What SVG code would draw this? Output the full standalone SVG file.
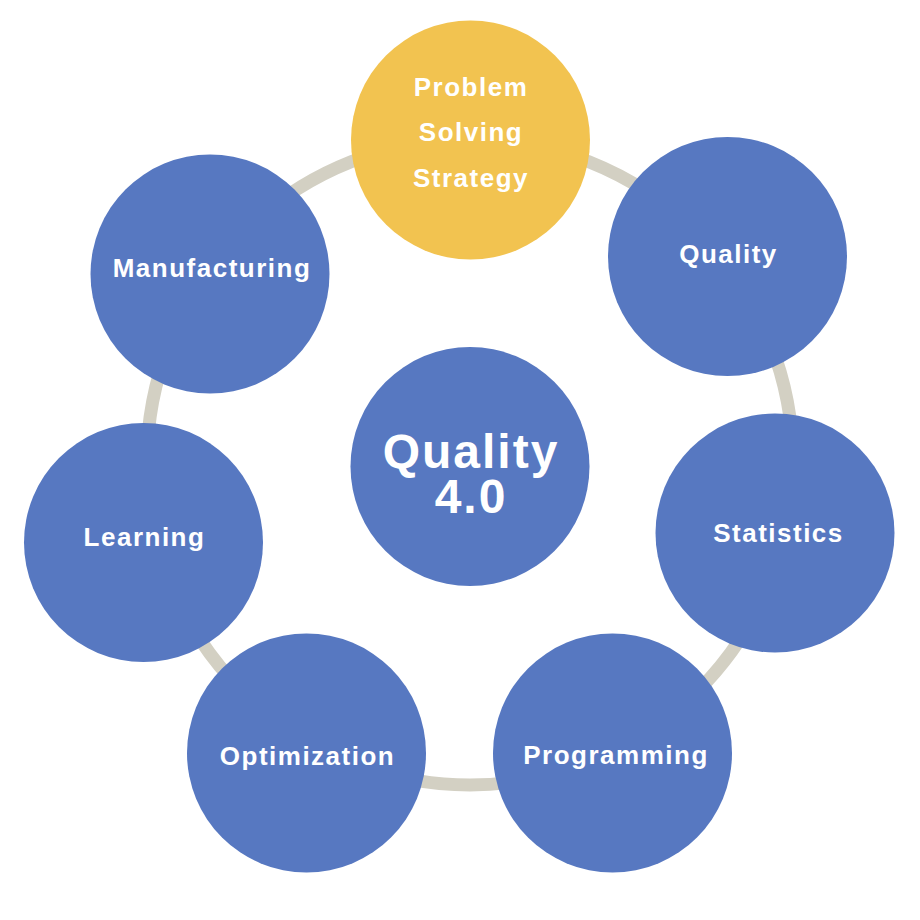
<svg xmlns="http://www.w3.org/2000/svg" width="920" height="920" viewBox="0 0 920 920">
<style>
.n{fill:#5778C1}
.y{fill:#F2C350}
.t{font-family:"Liberation Sans",Arial,sans-serif;font-weight:bold;fill:#fff;text-anchor:middle;font-size:26px;letter-spacing:1.5px}
.c{font-size:48px;letter-spacing:2px}
</style>
<rect width="920" height="920" fill="#fff"/>
<g id="connectors">
<circle cx="470" cy="462" r="323" fill="none" stroke="#D3D0C3" stroke-width="13"/>
</g>
<g id="problem">
<circle class="y" cx="470.5" cy="140" r="119.5"/>
<text class="t" x="471" y="96">Problem</text>
<text class="t" x="471" y="141">Solving</text>
<text class="t" x="471" y="187">Strategy</text>
</g>
<g id="quality">
<circle class="n" cx="727.5" cy="256.5" r="119.5"/>
<text class="t" x="728.5" y="263">Quality</text>
</g>
<g id="statistics">
<circle class="n" cx="775" cy="533" r="119.5"/>
<text class="t" x="778.5" y="542">Statistics</text>
</g>
<g id="programming">
<circle class="n" cx="612.5" cy="753" r="119.5"/>
<text class="t" x="616" y="764">Programming</text>
</g>
<g id="optimization">
<circle class="n" cx="306.5" cy="753" r="119.5"/>
<text class="t" x="307.5" y="765">Optimization</text>
</g>
<g id="learning">
<circle class="n" cx="143.5" cy="542.5" r="119.5"/>
<text class="t" x="144.5" y="546">Learning</text>
</g>
<g id="manufacturing">
<circle class="n" cx="210" cy="274" r="119.5"/>
<text class="t" x="212" y="277">Manufacturing</text>
</g>
<g id="center">
<circle class="n" cx="470" cy="466.5" r="119.5"/>
<text class="t c" x="471" y="468">Quality</text>
<text class="t c" x="471" y="513">4.0</text>
</g>
</svg>
